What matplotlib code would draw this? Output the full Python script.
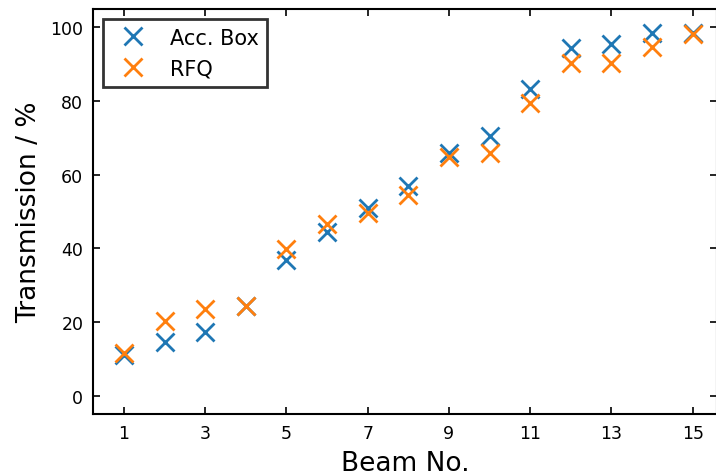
import numpy as np
import matplotlib
matplotlib.use("Agg")
import matplotlib.pyplot as plt

beam = np.arange(1, 16)
acc_box = [11.1, 14.5, 17.3, 24.3, 36.8, 44.5, 50.9, 56.8, 65.8, 70.5, 83.2, 94.5, 95.4, 98.6, 98.4]
rfq = [11.6, 20.2, 23.6, 24.3, 39.7, 46.5, 49.7, 54.4, 64.7, 65.8, 79.5, 90.2, 90.2, 94.7, 98.1]
xticks = [1, 3, 5, 7, 9, 11, 13, 15]

fig = plt.figure(figsize=(7.16, 4.77), dpi=100)
ax = fig.add_axes([93/716, 62/477, 624/716, 405/477])

ax.plot(beam, acc_box, "x", color="#1f77b4", ms=13, mew=2, label="Acc. Box")
ax.plot(beam, rfq, "x", color="#ff7f0e", ms=13, mew=2, label="RFQ")

ax.set_xlim(0.24, 15.6)
ax.set_ylim(-5, 105)
ax.set_xticks(xticks)
ax.tick_params(direction="in", top=True, right=True, length=5, width=1.2,
               labelsize=12.5, pad=7)
for s in ax.spines.values():
    s.set_linewidth(1.5)

ax.set_xlabel("Beam No.", fontsize=19, labelpad=6)
ax.set_ylabel("Transmission / %", fontsize=19, labelpad=6)

leg = ax.legend(loc="upper left", fontsize=15, fancybox=False, framealpha=1,
                edgecolor="#333333", borderaxespad=0.5)
leg.get_frame().set_linewidth(2)

fig.savefig("out.png", dpi=100)
